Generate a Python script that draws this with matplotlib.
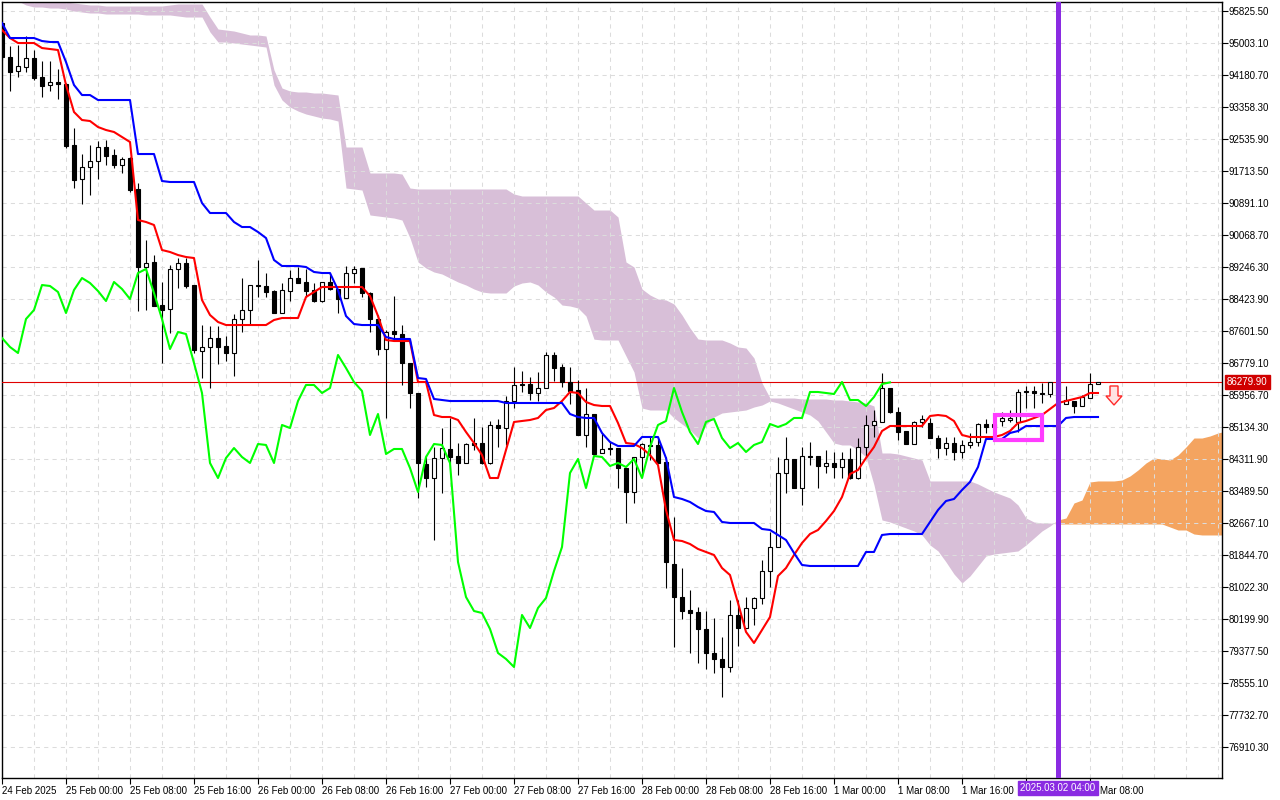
import numpy as np
import matplotlib
matplotlib.use("Agg")
import matplotlib.pyplot as plt
from matplotlib.patches import Rectangle, Polygon
from matplotlib.transforms import blended_transform_factory

plt.rcParams['font.family'] = ['Liberation Sans', 'DejaVu Sans']

# BTCUSD H1, 24 Feb 2025 16:00 .. 2 Mar 2025 09:00 (one bar per hour)
open_ = [95517, 94643, 94283, 94386, 94617, 94129, 93924, 94003, 93949, 92382,
         91508, 91816, 91970, 92330, 92124, 91868, 92047, 91251, 89246, 89375,
         88269, 88167, 89195, 89349, 88783, 87087, 87190, 87421, 87216, 87036,
         87910, 88141, 88783, 88758, 88629, 88064, 88629, 88963, 88861, 88655,
         88372, 88861, 88681, 88449, 89092, 89220, 88578, 87910, 87139, 87601,
         87524, 86779, 86008, 84183, 83823, 84337, 84569, 84389, 84209, 84723,
         84723, 84209, 85186, 85108, 85802, 86239, 86239, 86008, 86136, 86985,
         86676, 86291, 86085, 84929, 85468, 84466, 84594, 84594, 84080, 83464,
         84363, 84646, 84672, 84235, 81613, 80765, 80431, 80380, 79943, 79326,
         79172, 78966, 80303, 79968, 80482, 80739, 81433, 82050, 83952, 84312,
         83566, 84389, 84389, 84132, 84209, 84106, 84312, 83823, 84620, 85186,
         85263, 86136, 85520, 85031, 84697, 85263, 85237, 84851, 84594, 84723,
         84492, 84672, 84749, 85211, 85134, 85288, 85314, 85263, 86059, 86059,
         86008, 85982, 86291, 85725, 85802, 85674, 85879, 86239]
high = [95594, 94926, 94952, 95183, 94823, 94540, 94540, 94335, 93975, 92818,
        92150, 92382, 92484, 92510, 92279, 92073, 92073, 91405, 89940, 89554,
        88861, 89297, 89477, 89477, 88783, 87755, 87730, 87730, 87473, 88038,
        88963, 88783, 89426, 89092, 88655, 88835, 89169, 89246, 89195, 88835,
        88861, 89092, 88681, 89272, 89272, 89220, 88604, 88013, 87627, 88501,
        87755, 86779, 86008, 84414, 84620, 85108, 85366, 84723, 84723, 85366,
        85134, 85288, 85340, 85931, 86676, 86573, 86419, 86548, 87062, 87062,
        86753, 86676, 86342, 86136, 85468, 84980, 84749, 84594, 84080, 84363,
        84723, 84877, 84851, 84363, 82821, 81510, 80945, 80508, 80405, 80225,
        79737, 80688, 80688, 80765, 80765, 81716, 82436, 84363, 84877, 84312,
        84620, 84749, 84389, 84543, 84492, 84492, 84594, 84851, 85442, 85571,
        86522, 86136, 85648, 85031, 85288, 85442, 85366, 84929, 84877, 84877,
        84800, 84980, 85237, 85340, 85366, 85520, 85571, 86111, 86188, 86188,
        86265, 86291, 86393, 86188, 85802, 85957, 86522, 86280]
low = [94566, 93769, 94129, 94258, 94052, 93615, 93769, 93564, 92304, 91276,
       90865, 91097, 91508, 91868, 91790, 91662, 91174, 88115, 88141, 88244,
       86779, 87550, 88706, 88706, 87036, 86393, 86136, 86753, 86830, 86445,
       87576, 87755, 88475, 88475, 88064, 88064, 88372, 88835, 88475, 88347,
       88347, 88655, 88064, 88449, 88835, 88475, 87576, 86985, 85366, 87421,
       86214, 85622, 83309, 83592, 82230, 83438, 84209, 83900, 84209, 84543,
       84183, 84183, 84620, 84672, 85622, 86034, 85828, 85802, 86136, 86316,
       86162, 85725, 84929, 84620, 84414, 84466, 84414, 83566, 82667, 83181,
       83849, 84286, 84209, 80996, 79480, 80200, 79326, 79069, 78915, 78812,
       78195, 78838, 79506, 79968, 80046, 80585, 81022, 82050, 83438, 83566,
       83130, 84158, 83566, 83952, 83823, 83823, 83798, 83798, 84363, 84877,
       85263, 85494, 84800, 84697, 84697, 85134, 84851, 84337, 84414, 84286,
       84337, 84594, 84646, 84980, 85006, 85160, 85263, 85006, 85622, 85622,
       85751, 85905, 85777, 85725, 85494, 85674, 85879, 86239]
close = [94643, 94258, 94412, 94617, 94103, 93898, 94003, 93949, 92356, 91482,
         91816, 91970, 92330, 92099, 91868, 92022, 91225, 89246, 89349, 88244,
         88141, 89195, 89349, 88758, 87113, 87190, 87421, 87190, 87036, 87910,
         88141, 88783, 88758, 88604, 88064, 88655, 88963, 88835, 88629, 88372,
         88861, 88681, 88424, 89092, 89195, 88578, 87910, 87139, 87576, 87524,
         86779, 86008, 84209, 83823, 84337, 84594, 84363, 84209, 84697, 84672,
         84209, 85186, 85108, 85802, 86214, 86214, 86008, 86136, 86985, 86650,
         86291, 86059, 84929, 85468, 84440, 84569, 84569, 84080, 83464, 84363,
         84697, 84672, 84209, 81665, 80765, 80405, 80354, 79943, 79326, 79172,
         78966, 80303, 79968, 80482, 80739, 81433, 82050, 83952, 84312, 83566,
         84389, 84363, 84132, 84209, 84106, 84312, 83823, 84620, 85186, 85288,
         86136, 85520, 85006, 84697, 85263, 85340, 84851, 84594, 84723, 84492,
         84672, 84749, 85211, 85134, 85211, 85366, 85366, 86034, 86034, 86008,
         85982, 86291, 85828, 85828, 85674, 85905, 86239, 86279.9]

# Ichimoku lines
tenkan = [95337, 95131, 95003, 95003, 95003, 94874, 94849, 94823, 93924, 93230,
          93024, 92998, 92844, 92767, 92716, 92587, 92459, 90454, 90403, 90326,
          89683, 89632, 89554, 89503, 89477, 88398, 88013, 87833, 87755, 87755,
          87755, 87755, 87755, 87755, 87884, 87935, 87935, 87935, 88475, 88604,
          88732, 88732, 88732, 88732, 88732, 88732, 88501, 87987, 87370, 87344,
          87344, 87344, 86291, 86291, 85442, 85391, 85391, 85314, 85006, 84723,
          84414, 83823, 83823, 84543, 85263, 85288, 85314, 85366, 85571, 85622,
          85802, 86034, 86008, 85777, 85699, 85674, 85674, 85237, 84723, 84697,
          84594, 84414, 84158, 83001, 82230, 82204, 82127, 81999, 81922, 81845,
          81510, 81330, 80611, 79868, 79583, 79917, 80251, 81305, 81510, 81845,
          82153, 82384, 82487, 82718, 82975, 83335, 83926, 84029, 84337, 84620,
          85031, 85160, 85160, 85160, 85160, 85160, 85417, 85442, 85417, 85288,
          84929, 84877, 84877, 84877, 84877, 84929, 85031, 85237, 85288, 85366,
          85442, 85597, 85751, 85802, 85854, 85905, 86008, 86008]
kijun = [95517, 95131, 95131, 95131, 95131, 95054, 95029, 95029, 94515, 93924,
         93666, 93666, 93538, 93538, 93538, 93538, 93538, 92150, 92150, 92150,
         91456, 91431, 91431, 91431, 91431, 90891, 90634, 90634, 90634, 90403,
         90274, 90274, 90146, 89991, 89426, 89272, 89272, 89272, 89246, 89118,
         89092, 89092, 88655, 87987, 87781, 87755, 87755, 87755, 87447, 87396,
         87396, 87396, 86393, 86368, 85854, 85828, 85802, 85802, 85802, 85802,
         85802, 85802, 85802, 85751, 85751, 85751, 85751, 85751, 85751, 85751,
         85751, 85468, 85391, 85366, 85366, 84980, 84749, 84646, 84646, 84646,
         84877, 84877, 84877, 84337, 83335, 83284, 83207, 83078, 82975, 82950,
         82693, 82667, 82667, 82667, 82667, 82513, 82487, 82359, 82230, 81896,
         81588, 81562, 81562, 81562, 81562, 81562, 81562, 81562, 81922, 81922,
         82359, 82384, 82384, 82384, 82384, 82384, 82693, 83001, 83232, 83284,
         83515, 83721, 84106, 84826, 84826, 84826, 84980, 85031, 85160, 85160,
         85160, 85160, 85160, 85366, 85391, 85391, 85391, 85391]
span_a = [96185, 96134, 96082, 95980, 95928, 95928, 95902, 95902, 95877, 95825,
          95800, 95774, 95774, 95748, 95748, 95748, 95748, 95748, 95723, 95723,
          95723, 95723, 95697, 95671, 95671, 95671, 95286, 95029, 95029, 95003,
          94977, 94952, 94926, 94900, 93924, 93538, 93358, 93255, 93178, 93127,
          93075, 93050, 92998, 91276, 91251, 91225, 90583, 90557, 90531, 90505,
          90454, 89991, 89375, 89220, 89118, 89066, 88963, 88861, 88783, 88681,
          88604, 88578, 88578, 88578, 88758, 88835, 88861, 88783, 88604, 88475,
          88269, 88244, 88192, 87987, 87391, 87370, 87370, 87370, 86959, 86548,
          85622, 85571, 85571, 85571, 85366, 85211, 85057, 84851, 85186, 85391,
          85494, 85520, 85545, 85571, 85648, 85699, 85802, 85751, 85674, 85597,
          85520, 85442, 85288, 85006, 84723, 84672, 84672, 84543, 84363, 83644,
          82744, 82693, 82615, 82538, 82462, 82359, 82102, 81948, 81665, 81356,
          81125, 81305, 81562, 81819, 81870, 81896, 81922, 81948, 82102, 82281,
          82462, 82590, 82744, 82795, 83181, 83258, 83721, 83747, 83747, 83747,
          83772, 83875, 84029, 84209, 84337, 84312, 84286, 84414, 84620, 84851,
          84851, 84903, 84980, 85031]
span_b = [96416, 96365, 96314, 96262, 96211, 96159, 96108, 96082, 96057, 96031,
          96005, 95980, 95980, 95954, 95954, 95954, 95954, 95954, 95954, 95954,
          95954, 95980, 96005, 96005, 96005, 96005, 95671, 95363, 95337, 95311,
          95260, 95209, 95209, 95183, 94309, 93846, 93769, 93744, 93744, 93718,
          93718, 93692, 93667, 92330, 92330, 92330, 91662, 91662, 91662, 91662,
          91636, 91276, 91251, 91251, 91251, 91251, 91251, 91251, 91251, 91251,
          91251, 91251, 91251, 91251, 91123, 91071, 91071, 91071, 91071, 91071,
          91071, 91071, 91071, 90891, 90711, 90711, 90711, 90531, 89375, 89246,
          88681, 88527, 88424, 88398, 88295, 88013, 87678, 87396, 87370, 87370,
          87370, 87293, 87190, 87164, 86907, 86265, 85879, 85879, 85879, 85879,
          85854, 85854, 85854, 85854, 85828, 85828, 85802, 85777, 85751, 85674,
          84466, 84466, 84440, 84389, 84337, 84286, 83747, 83747, 83747, 83747,
          83747, 83747, 83669, 83566, 83464, 83387, 83309, 83130, 82795, 82693,
          82667, 82667, 82641, 82641, 82641, 82641, 82641, 82641, 82641, 82641,
          82641, 82641, 82641, 82641, 82641, 82641, 82564, 82487, 82487, 82384,
          82359, 82359, 82359, 82359]

price_ticks = [95825.50, 95003.10, 94180.70, 93358.30, 92535.90, 91713.50,
               90891.10, 90068.70, 89246.30, 88423.90, 87601.50, 86779.10,
               85956.70, 85134.30, 84311.90, 83489.50, 82667.10, 81844.70,
               81022.30, 80199.90, 79377.50, 78555.10, 77732.70, 76910.30]
# every 8 bars; the last two sit under the marker label in the terminal
time_labels = ['24 Feb 2025', '25 Feb 00:00', '25 Feb 08:00', '25 Feb 16:00',
               '26 Feb 00:00', '26 Feb 08:00', '26 Feb 16:00', '27 Feb 00:00',
               '27 Feb 08:00', '27 Feb 16:00', '28 Feb 00:00', '28 Feb 08:00',
               '28 Feb 16:00', '1 Mar 00:00', '1 Mar 08:00', '1 Mar 16:00',
               '', '']
partial_label = 'Mar 08:00'   # what is left visible of "2 Mar 08:00"
bid = 86279.90
marked_bar = 132          # 2025.03.02 04:00
marked_label = '2025.03.02 04:00'

o = np.array(open_)
h = np.array(high)
l = np.array(low)
c = np.array(close)
n = len(c)
x = np.arange(n)
sa = np.array(span_a)
sb = np.array(span_b)
xc = np.arange(len(sa))
shift = 26

fig = plt.figure(figsize=(12.8, 8), dpi=100)
ax = fig.add_axes([2 / 1280, 22 / 800, 1220 / 1280, 776 / 800])

# cloud
ax.fill_between(xc, sa, sb, where=sb >= sa, interpolate=True,
                color='#d8bfd8', lw=0, zorder=0.8)
ax.fill_between(xc, sa, sb, where=sa >= sb, interpolate=True,
                color='#f4a460', lw=0, zorder=0.8)

# candles
bull = c >= o
ax.vlines(x, l, h, color='black', lw=0.8, zorder=3)
body_h = np.maximum(np.abs(c - o), 26)
ax.bar(x, body_h, bottom=np.minimum(o, c), width=0.58,
       color=np.where(bull, 'white', 'black'), edgecolor='black',
       linewidth=0.8, zorder=3.2)

# indicator lines
ax.plot(x, tenkan, color='#ff0000', lw=1.5, zorder=4)
ax.plot(x, kijun, color='#0000ff', lw=1.5, zorder=4)
ax.plot(x[:n - shift], c[shift:], color='#00ff00', lw=1.5, zorder=4)

ax.axhline(bid, color='#e00000', lw=0.8, zorder=2.8)
ax.axvline(marked_bar, color='#8a2be2', lw=3.6, zorder=5)

# highlighted zone and sell arrow
ax.add_patch(Rectangle((124.1, 84800), 5.9, 642, fill=False,
                       edgecolor='#ff3cff', lw=3, zorder=5))
ax_ = 139
ax.add_patch(Polygon([(ax_ - 0.5, 86188), (ax_ + 0.5, 86188), (ax_ + 0.5, 85931),
                      (ax_ + 1.0, 85931), (ax_, 85699), (ax_ - 1.0, 85931),
                      (ax_ - 0.5, 85931)], closed=True, facecolor='#ffe4e4',
                     edgecolor='#ff2a2a', lw=1, zorder=5))

ax.set_xlim(0, 152.5)
ax.set_ylim(76113, 96057)

# grid and axes
ax.set_xticks(np.arange(0, 8 * len(time_labels), 8))
ax.set_xticklabels(time_labels)
ax.set_xticks(np.arange(0, 153, 4), minor=True)
for lbl in ax.get_xticklabels():
    lbl.set_horizontalalignment('left')
ax.yaxis.tick_right()
ax.set_yticks(price_ticks)
ax.set_yticklabels([f'{v:.2f}' for v in price_ticks])
ax.tick_params(axis='x', which='major', direction='out', length=4, width=0.8,
               labelsize=7, pad=2)
ax.tick_params(axis='x', which='minor', length=0)
ax.tick_params(axis='y', direction='out', length=4, width=0.8, labelsize=7, pad=1)
ax.grid(True, which='both', axis='x', color='#dcdcdc', lw=0.75, ls=(0, (4, 4)))
ax.grid(True, which='major', axis='y', color='#dcdcdc', lw=0.75, ls=(0, (4, 4)))
for sp in ax.spines.values():
    sp.set_color('black')
    sp.set_linewidth(1)

ax.annotate(f'{bid:.2f}', xy=(1.0, bid), xycoords=('axes fraction', 'data'),
            xytext=(5, 0), textcoords='offset pixels', va='center', ha='left',
            fontsize=7, color='white', zorder=10, annotation_clip=False,
            bbox=dict(boxstyle='square,pad=0.2', fc='#d00000', ec='#d00000'))

trans = blended_transform_factory(ax.transData, ax.transAxes)
ax.text(marked_bar, -0.0065, marked_label, transform=trans, ha='center', va='top',
        fontsize=7, color='white', zorder=10, clip_on=False,
        bbox=dict(boxstyle='square,pad=0.2', fc='#8a2be2', ec='#8a2be2'))
ax.annotate(partial_label, xy=(137.2, 0), xycoords=trans, xytext=(0, -6),
            textcoords='offset points', ha='left', va='top', fontsize=7,
            annotation_clip=False)

fig.savefig('out.png', dpi=100, facecolor='white')
